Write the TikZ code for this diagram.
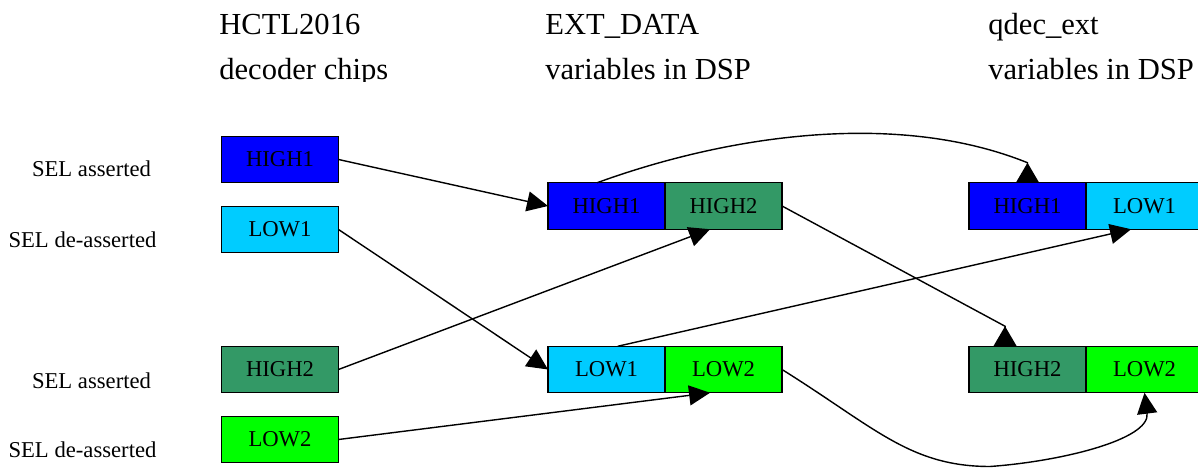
\documentclass[tikz,border=0pt]{standalone}
\usepackage{fontspec}
\setmainfont{Liberation Serif}
\usetikzlibrary{positioning,arrows.meta,calc}
\definecolor{hiA}{RGB}{0,0,255}
\definecolor{loA}{RGB}{0,204,255}
\definecolor{hiB}{RGB}{51,153,102}
\definecolor{loB}{RGB}{0,255,0}
\begin{document}
\begin{tikzpicture}[
  cell/.style={draw=black, line width=0.7pt, minimum width=2.34cm, minimum height=0.93cm,
    inner sep=0pt, outer sep=0pt, font=\fontsize{12.9pt}{15pt}\selectfont},
  lbl/.style={anchor=base, inner sep=0pt, font=\fontsize{12.9pt}{15pt}\selectfont},
  head/.style={anchor=base west, inner sep=0pt, font=\fontsize{17.4pt}{21pt}\selectfont},
  link/.style={line width=0.8pt, -{Triangle[length=0.42cm,width=0.4cm]}},
  back/.style={line width=0.8pt, -{Triangle[reversed,length=0.4cm,width=0.46cm]}}
]
\useasboundingbox (0,0) rectangle (23.96,9.36);
% headings (cut off at the bottom)
\begin{scope}
\clip (0,7.72) rectangle (23.96,9.36);
\node[head] (hctl) at (4.38,8.66) {HCTL2016};
\node[head] (hctlb) at (4.38,7.76) {decoder chips};
\node[head] (ext) at (10.90,8.66) {EXT\_DATA};
\node[head] (extb) at (10.90,7.76) {variables in DSP};
\node[head] (qdec) at (19.76,8.66) {qdec\_ext};
\node[head] (qdecb) at (19.76,7.76) {variables in DSP};
\end{scope}
% SEL labels
\node[lbl] (sel1) at (1.83,5.82) {SEL asserted};
\node[lbl] (sel2) at (1.65,4.40) {SEL de-asserted};
\node[lbl] (sel3) at (1.83,1.58) {SEL asserted};
\node[lbl] (sel4) at (1.65,0.20) {SEL de-asserted};
% decoder chips
\node[cell, fill=hiA] (chigh1) at (5.60,6.17) {HIGH1};
\node[cell, fill=loA] (clow1) at (5.60,4.77) {LOW1};
\node[cell, fill=hiB] (chigh2) at (5.60,1.97) {HIGH2};
\node[cell, fill=loB] (clow2) at (5.60,0.57) {LOW2};
% EXT_DATA
\node[cell, fill=hiA] (ehigh1) at (12.13,5.24) {HIGH1};
\node[cell, fill=hiB, right=0pt of ehigh1] (ehigh2) {HIGH2};
\node[cell, fill=loA] (elow1) at (12.13,1.97) {LOW1};
\node[cell, fill=loB, right=0pt of elow1] (elow2) {LOW2};
% qdec_ext
\node[cell, fill=hiA] (qhigh1) at (20.55,5.24) {HIGH1};
\node[cell, fill=loA, right=0pt of qhigh1] (qlow1) {LOW1};
\node[cell, fill=hiB] (qhigh2) at (20.55,1.97) {HIGH2};
\node[cell, fill=loB, right=0pt of qhigh2] (qlow2) {LOW2};
% helper points
\coordinate (tipA) at ($(qhigh1.north)+(0,0.4)$);
\coordinate (tipB) at ($(qhigh2.134)+(0,0.4)$);
\coordinate (dip) at (19.8,0.03);
% chips to EXT_DATA
\draw[link] (chigh1.east) -- (ehigh1.west);
\draw[link] (clow1.east) -- (elow1.west);
\draw[link] (chigh2.east) -- (ehigh2.240);
\draw[link] (clow2.east) -- (elow2.240);
% EXT_DATA to qdec_ext
\draw[back] (ehigh1.112) .. controls +(20:2.8) and +(158:2.8) .. (tipA) -- (qhigh1.north);
\draw[link] (elow1.64) -- (qlow1.240);
\draw[back] (ehigh2.east) -- (tipB) -- (qhigh2.134);
\draw[link] (elow2.east) .. controls +(-32:2.2) and +(180:1.6) .. (dip)
  .. controls +(1.4,0.1) and +(0.12,-0.94) .. (qlow2.south);
\end{tikzpicture}
\end{document}
